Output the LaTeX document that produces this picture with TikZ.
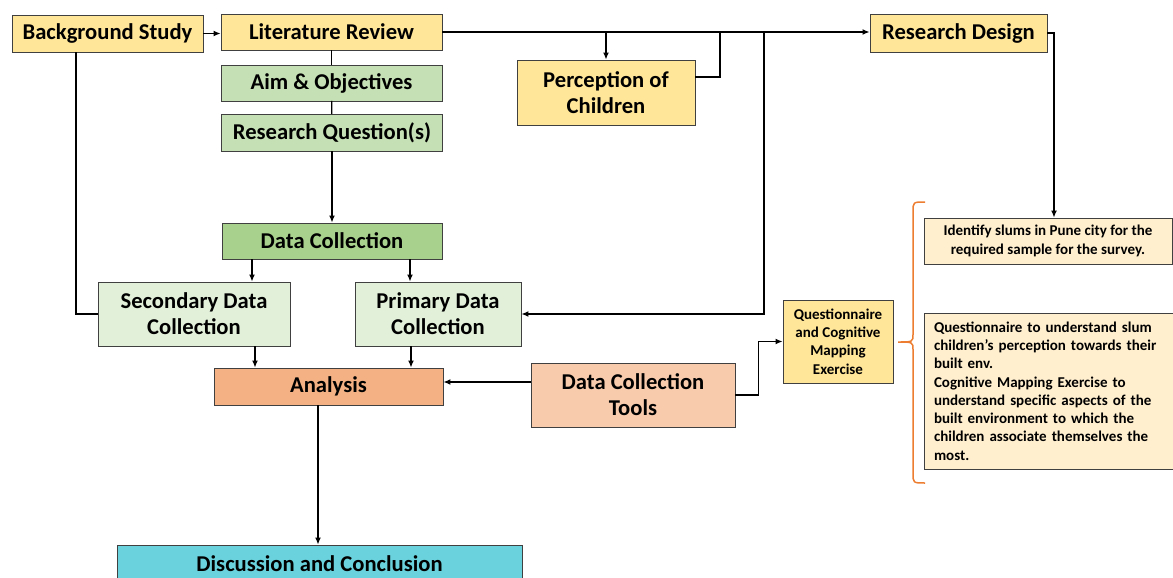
\documentclass[tikz,border=0pt]{standalone}
\usepackage{fontspec}
\setmainfont{Carlito}
\usetikzlibrary{arrows.meta, positioning}

\definecolor{yelfill}{HTML}{FFE699}
\definecolor{aimfill}{HTML}{C5E0B4}
\definecolor{dcfill}{HTML}{A9D18E}
\definecolor{palegreen}{HTML}{E2F0D9}
\definecolor{anafill}{HTML}{F4B183}
\definecolor{toolfill}{HTML}{F8CBAD}
\definecolor{notefill}{HTML}{FFEFCF}
\definecolor{discfill}{HTML}{69D2DC}
\definecolor{braceorange}{HTML}{ED7D31}

\tikzset{
  box/.style={draw=black!75, line width=0.9pt, inner sep=0pt, align=center,
    font=\fontsize{22.6}{26}\selectfont\bfseries},
  smallbox/.style={box, font=\fontsize{15}{18.3}\selectfont\bfseries},
  conn/.style={line width=1.3pt, line cap=rect},
  arr/.style={conn, -{Latex[length=7pt,width=6pt]}},
}

\begin{document}
\begin{tikzpicture}[x=1pt,y=-1pt]
        \useasboundingbox (0,0) rectangle (1173,578);
        % left column
        \node[box, fill=yelfill, minimum width=191, minimum height=37] (bgstudy) at (107.5,33.5) {Background Study};
        \node[box, fill=yelfill, minimum width=221, minimum height=36] (litrev) at (331.5,32) {Literature Review};
        \node[box, fill=aimfill, minimum width=221, minimum height=36] (aim) at (331.5,83) {Aim \& Objectives};
        \node[box, fill=aimfill, minimum width=221, minimum height=37] (resq) at (332,132.5) {Research Question(s)};
        \node[box, fill=dcfill, minimum width=220, minimum height=36] (datacoll) at (332,241) {Data Collection};
        \node[box, fill=palegreen, minimum width=192, minimum height=64] (secondary) at (194,314) {Secondary Data\\Collection};
        \node[box, fill=palegreen, minimum width=166, minimum height=64] (primary) at (438,314) {Primary Data\\Collection};
        \node[box, fill=anafill, minimum width=229, minimum height=37] (analysis) at (328.5,386.5) {Analysis};
        \node[box, fill=discfill, minimum width=405, minimum height=38] (discuss) at (319.5,564) {Discussion and Conclusion};
        % middle / right
        \node[box, fill=yelfill, minimum width=178, minimum height=65] (perception) at (606,92.5) {Perception of\\Children};
        \node[box, fill=yelfill, minimum width=177, minimum height=38] (resdesign) at (958.5,33) {Research Design};
        \node[box, fill=toolfill, minimum width=204, minimum height=64] (tools) at (633,395) {Data Collection\\Tools};
        \node[smallbox, fill=yelfill, minimum width=110, minimum height=83] (quest) at (838,341.5) {Questionnaire\\and Cognitive\\Mapping\\Exercise};
        \node[smallbox, fill=notefill, minimum width=248, minimum height=46] (identify) at (1048,241) {Identify slums in Pune city for the\\required sample for the survey.};
        \node[smallbox, fill=notefill, minimum width=249, minimum height=156, text width=229, align=left] (notes) at (1048.5,391) {Questionnaire to understand slum\\children's perception towards their\\built env.\\Cognitive Mapping Exercise to\\understand specific aspects of the\\built environment to which the\\children associate themselves the\\most.};

        % branch points on the top line
        \coordinate (pjoin) at (720,32);
        \coordinate (pdrop) at (764,32);

        \draw[arr] (bgstudy.east) -- (bgstudy.east -| litrev.west);
        \draw[conn] ([xshift=-31.5pt]bgstudy.south) |- (secondary.west);   % bg -> secondary
        \draw[conn] (litrev) -- (aim);
        \draw[conn] (aim) -- (resq);
        \draw[arr] (resq) -- (datacoll);
        \draw[arr] (litrev.east) -- (litrev.east -| resdesign.west);   % top line
        \draw[arr] (perception.north |- litrev.east) -- (perception.north);
        \draw[conn] ([yshift=15.5pt]perception.east) -| (pjoin);
        \draw[arr] (pdrop) |- (primary.east);
        \draw[arr] (resdesign.east) -| ([xshift=6pt]identify.north);
        \draw[arr] ([xshift=58pt]secondary.north |- datacoll.south) -- ([xshift=58pt]secondary.north);
        \draw[arr] ([xshift=-28pt]primary.north |- datacoll.south) -- ([xshift=-28pt]primary.north);
        \draw[arr] ([xshift=61pt]secondary.south) -- ([xshift=61pt]secondary.south |- analysis.north);
        \draw[arr] ([xshift=-27pt]primary.south) -- ([xshift=-27pt]primary.south |- analysis.north);
        \draw[arr] ([yshift=13pt]tools.west) -- ([yshift=13pt]tools.west -| analysis.east);
        \draw[arr] (tools.east) -- ++(23,0) |- (quest.west);
        \draw[arr] ([xshift=-10.5pt]analysis.south) -- ([xshift=-10.5pt]analysis.south |- discuss.north);

        % brace
        \draw[braceorange, line width=1.5pt] (925,202) .. controls (913,202) .. (913,212) -- (913,334)
              .. controls (913,342) .. (898,342) .. controls (913,342) .. (913,350) -- (913,473)
              .. controls (913,483) .. (925,483);
\end{tikzpicture}
\end{document}
